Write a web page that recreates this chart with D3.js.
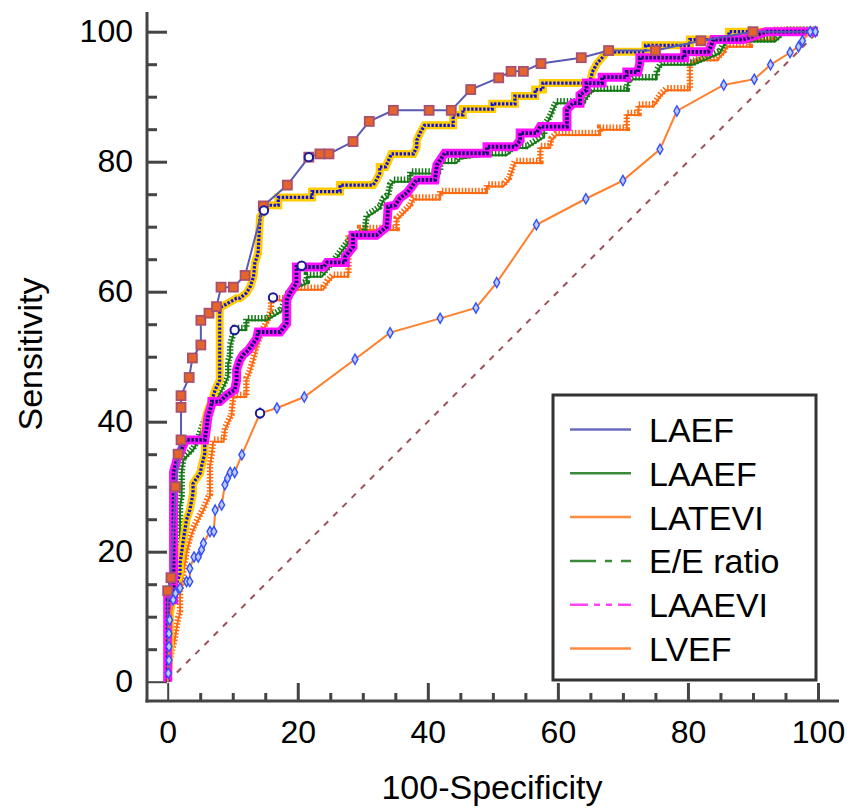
<!DOCTYPE html>
<html>
<head>
<meta charset="utf-8">
<script src="https://cdn.jsdelivr.net/npm/d3@7"></script>
<style>
  body { margin: 0; background: #fff; }
  text { font-family: "Liberation Sans", Arial, sans-serif; fill: #000; }
</style>
</head>
<body>
<script>
// ROC points, [100-specificity, sensitivity]
var laef = [[0,0],[0,14],[0.5,16],[1.2,30],[1.6,35],[2.05,37.2],[2.05,42.2],[2.05,44],[3.3,46.8],[3.8,49.8],
  [5.1,51.8],[5.1,55.6],[6.35,56.7],[7.5,57.7],[8.2,60.7],[10.1,60.7],[11.9,62.5],[14.7,73.2],[18.4,76.4],
  [21.7,80.7],[23.4,81.2],[24.8,81.2],[28.5,83.1],[31,86.2],[34.7,87.9],[40.2,87.9],[43.6,87.9],[46.6,91.1],
  [50.9,92.9],[52.8,93.9],[54.7,93.9],[57.4,95.1],[63.6,96],[67.8,97.1],[75,97.1],[82,98.6],[90,100],[100,100]];

var laaef = [[0,0],[0,8],[0.6,15.6],[1.9,19.8],[1.9,26.9],[2.15,28.4],[2.15,32.1],[2.4,34.1],[3.9,35.6],
  [4.5,36.7],[5.2,38.7],[6.2,41.3],[7.5,43.3],[8.6,45.4],[9.3,46.9],[9.3,49],[9.6,50],[9.6,51.5],[10.3,54.1],
  [12.1,54.1],[12.1,55.6],[15.2,55.6],[17.5,57],[18.5,59.5],[19.5,60.5],[21.4,61.3],[21.4,62.3],[23.7,62.3],
  [25.5,64.5],[27,66.5],[28.5,68.5],[30.3,69],[30.6,71.5],[31.6,72.1],[32.6,72.8],[33.2,74.1],[33.9,74.6],
  [34.2,76.2],[34.7,76.9],[37.3,76.9],[37.3,78.2],[41.9,78.2],[41.9,79.8],[44.4,79.8],[45,80.5],[49.1,81],
  [52.1,81],[53.4,82.1],[55.2,82.1],[57.9,83.8],[57.9,85.4],[58.5,86.2],[59,87.2],[59.3,88],[59.8,89],
  [63.9,89],[64.9,90.5],[65.4,90.9],[70.6,90.9],[70.8,92.1],[71.6,92.7],[75.2,92.7],[75.2,93.8],[75.9,94.9],
  [80.8,94.9],[84.9,96.7],[85.4,97.7],[86,98.5],[93.4,98.5],[95,100],[100,100]];

var latevi = [[0,0],[0.3,3],[1,6],[1.6,9.5],[1.9,10.5],[1.9,13.6],[2.4,16.7],[2.9,19.8],[3.4,21.8],[3.9,23.3],
  [4.7,24.9],[5.5,26.4],[6.2,28],[6.5,28.5],[6.5,33.1],[6.8,35.1],[7,36.9],[8.6,36.9],[8.8,38.7],[9.3,39.8],
  [9.8,40.8],[10.1,43.8],[12.1,43.8],[12.1,46.4],[12.6,47.5],[13.2,49.5],[13.7,51.5],[14.7,54.1],[15.5,55.6],
  [15.9,57.2],[15.9,58.7],[18.3,58.7],[19.3,59.8],[19.8,60.3],[23.9,60.3],[24.5,61.3],[25.4,62.3],[27.8,62.3],
  [27.8,68.5],[29.6,68.5],[29.6,69.5],[35.2,69.5],[35.2,71],[37.3,73.1],[37.8,74.2],[41.9,74.2],[41.9,75.2],
  [49.1,75.2],[49.1,76.2],[51.6,76.2],[52.5,77.2],[53.4,79.8],[57.3,79.8],[57.3,82.1],[58.8,82.1],[59,83.3],
  [59.8,84.1],[66.5,84.1],[66.5,84.9],[70.6,84.9],[70.6,87.2],[72.4,87.2],[72.4,88.5],[74.7,88.5],[75.7,90],
  [76.7,91],[80.3,91],[80.3,94.9],[81.6,95.6],[84.4,95.6],[85.5,96.7],[86,97.7],[89.5,97.7],[89.5,98.7],
  [93.1,98.7],[93.1,100],[100,100]];

var eeRatio = [[0,0],[0.35,5.3],[0.35,10.5],[0.9,13.6],[1.9,16.7],[1.9,18.2],[2.4,21.8],[2.9,24.9],[3.4,26.4],
  [3.9,29],[3.9,30.5],[5,32.1],[5.2,33.1],[5.7,35.1],[5.7,39.2],[6,41.3],[6.8,43.3],[7.3,44.9],[8,46.4],
  [8,57.7],[8.3,57.7],[10.6,59],[11.1,59],[12.1,59.8],[12.7,60.8],[13.2,62.3],[13.4,64.4],[13.9,65.9],
  [14.2,71.5],[14.8,72.5],[15.4,73.3],[17,73.3],[17,74.5],[22.2,74.5],[22.2,75.4],[26.5,75.4],[26.5,76.4],
  [31.6,76.4],[32.1,77.2],[32.6,78.2],[32.6,79.2],[33.5,79.2],[34.4,81.2],[37.8,81.2],[38.3,82.3],[38.3,83.3],
  [38.8,84.4],[39.5,85.6],[43.9,85.6],[43.9,87.2],[45.4,87.2],[45.4,88.1],[49.9,88.1],[49.9,88.9],[53.4,88.9],
  [53.4,90.1],[56.5,90.1],[56.5,91.1],[57.7,91.1],[57.7,92.1],[64.9,92.1],[65.3,93.8],[66,95.1],[66.8,96],
  [67.5,96.9],[73.5,96.9],[73.5,97.9],[80.3,97.9],[80.3,98.8],[86.3,98.8],[86.3,100],[100,100]];

var laaevi = [[0,0],[0,12.6],[0.9,12.6],[0.9,32.3],[1.4,34.1],[1.9,35.1],[2.7,37.2],[5.7,37.2],[6,39.2],
  [6.2,40.8],[6.8,42.8],[6.8,43.1],[8,43.1],[9.1,44.1],[10.3,44.9],[10.6,46.4],[10.6,48],[11.1,49.5],
  [11.6,50.3],[12.4,51],[13.7,52.8],[13.9,53.8],[17.3,53.8],[18.3,55.1],[18.3,58.7],[18.8,59.8],[19.8,61.3],
  [19.8,63.8],[24,63.8],[24.5,64.5],[27.3,64.5],[27.3,65.4],[28.5,66.9],[28.5,68.7],[32.1,68.7],[33.7,70],
  [33.9,73.1],[35,73.3],[35.7,74.4],[36.8,75.2],[38.3,77.2],[41.1,77.2],[41.4,79.5],[42.6,81.3],[49.1,81.3],
  [49.1,82.3],[53.4,82.3],[54.2,83.3],[54.2,84.4],[56.7,84.4],[57.3,85.4],[61.4,85.4],[61.4,88],[62.3,89],
  [63.4,89],[63.4,90.3],[64.4,91],[64.4,92.1],[66.8,92.1],[66.8,93],[70.6,93],[70.6,93.8],[72.3,93.8],
  [72.6,95.1],[72.6,96],[79.5,96],[79.5,96.9],[83.1,96.9],[83.5,97.7],[83.9,98.8],[88.5,98.8],[92,100],[100,100]];

var lvef = [[0,0],[0.1,1.3],[0.2,3.3],[0.2,5.4],[0.2,7.4],[0.3,9.5],[0.85,12.6],[1.2,13.6],[1.9,14.4],
  [2.9,15.4],[3.4,15.4],[3.4,17.4],[4.05,19.2],[4.7,19.2],[5.2,20.3],[5.5,21.3],[6.5,23.1],[7.1,23.1],
  [7.3,26.4],[8.3,27.2],[8.8,30.3],[9.2,31.3],[9.6,32.2],[10.3,32.2],[11.4,34.9],[14.2,41.3],[16.8,42.1],
  [21,43.8],[28.8,49.6],[34.2,53.7],[41.9,55.9],[47.4,57.5],[50.6,61.4],[56.7,70.3],[64.3,74.3],[70,77.1],
  [75.7,81.9],[78.3,87.8],[85.5,91.8],[90.2,92.7],[92.7,94.9],[95.7,96.8],[97,97.7],[97.6,98.6],[98.8,100],
  [99.6,100],[100,100]];

// optimal criterion points (open circles)
var criterion = [[21.7,80.7],[14.8,72.5],[10.3,54.1],[16.2,59.1],[20.6,64],[14.2,41.3]];

var legendLabels = ["LAEF", "LAAEF", "LATEVI", "E/E ratio", "LAAEVI", "LVEF"];
var xTicks = [0, 20, 40, 60, 80, 100];
var yTicks = [0, 20, 40, 60, 80, 100];

var width = 851, height = 808;

var svg = d3.select("body").append("svg")
  .attr("width", width)
  .attr("height", height);

var x = d3.scaleLinear().domain([0, 100]).range([167.7, 818]);
var y = d3.scaleLinear().domain([0, 100]).range([681.7, 31.7]);

var line = d3.line()
  .x(function (d) { return x(d[0]); })
  .y(function (d) { return y(d[1]); });

// axes
var axisCol = "#444";
var minor = d3.range(0, 101, 5).filter(function (v) { return v % 20 != 0; });

var gx = svg.append("g").attr("transform", "translate(0,701)");
gx.call(d3.axisBottom(x).tickValues(xTicks).tickSizeInner(-18).tickSizeOuter(0).tickPadding(19));
gx.append("g").call(d3.axisBottom(x).tickValues(minor).tickSizeInner(-8).tickSizeOuter(0).tickFormat(""));

var gy = svg.append("g").attr("transform", "translate(147,0)");
gy.call(d3.axisLeft(y).tickValues(yTicks).tickSizeInner(-20).tickSizeOuter(0).tickPadding(14));
gy.append("g").call(d3.axisLeft(y).tickValues(minor).tickSizeInner(-10).tickSizeOuter(0).tickFormat(""));

svg.selectAll(".domain").remove();
svg.selectAll(".tick line").attr("stroke", axisCol).attr("stroke-width", 3);
svg.selectAll(".tick text").style("font-size", "32px").attr("fill", "#000");
gx.select("g").selectAll(".tick line").attr("stroke-width", 2);
gy.select("g").selectAll(".tick line").attr("stroke-width", 2);

svg.append("line").attr("x1", 147).attr("x2", 147).attr("y1", 12).attr("y2", 702.5)
  .attr("stroke", axisCol).attr("stroke-width", 3);
svg.append("line").attr("x1", 145.5).attr("x2", 839).attr("y1", 701).attr("y2", 701)
  .attr("stroke", axisCol).attr("stroke-width", 3);

svg.append("text").attr("x", 492).attr("y", 799).attr("text-anchor", "middle")
  .style("font-size", "34px").text("100-Specificity");
svg.append("text").attr("transform", "translate(42,354) rotate(-90)").attr("text-anchor", "middle")
  .style("font-size", "34px").text("Sensitivity");

// reference diagonal
svg.append("path").datum([[0, 0], [100, 100]]).attr("d", line)
  .attr("fill", "none").attr("stroke", "#a0505a").attr("stroke-width", 2).attr("stroke-dasharray", "6,7");

var plot = svg.append("g");

// dense-marker curves: band + marker stroke
function combCurve(data, col, band) {
  plot.append("path").datum(data).attr("d", line).attr("fill", "none")
    .attr("stroke", col).attr("stroke-width", 2);
  plot.append("path").datum(data).attr("d", line).attr("fill", "none")
    .attr("transform", "translate(0,-2)")
    .attr("stroke", col).attr("stroke-width", band).attr("stroke-dasharray", "1.5,1.8");
}

function boxCurve(data, col, dot, band, dotW) {
  plot.append("path").datum(data).attr("d", line).attr("fill", "none")
    .attr("stroke", col).attr("stroke-width", band).attr("stroke-linejoin", "miter");
  plot.append("path").datum(data).attr("d", line).attr("fill", "none")
    .attr("stroke", dot).attr("stroke-width", dotW).attr("stroke-dasharray", "2.4,1.6");
}

combCurve(latevi, "#ff6a10", 6.5);
combCurve(laaef, "#157a15", 6.5);
boxCurve(eeRatio, "#ffcc00", "#1010e0", 8, 3.2);
boxCurve(laaevi, "#ff10ff", "#10106e", 9, 3.8);

// LAEF
plot.append("path").datum(laef).attr("d", line).attr("fill", "none")
  .attr("stroke", "#5a5ab4").attr("stroke-width", 2);
plot.selectAll(".sq").data(laef.slice(1, -1)).enter().append("rect")
  .attr("x", function (d) { return x(d[0]) - 4.5; })
  .attr("y", function (d) { return y(d[1]) - 4.5; })
  .attr("width", 9).attr("height", 9)
  .attr("fill", "#e4642c").attr("stroke", "#a8506e").attr("stroke-width", 1.8);

// LVEF
plot.append("path").datum(lvef).attr("d", line).attr("fill", "none")
  .attr("stroke", "#ff7f2a").attr("stroke-width", 2);
plot.selectAll(".dm").data(lvef.slice(1, -1)).enter().append("path")
  .attr("d", d3.symbol().type(d3.symbolDiamond).size(30))
  .attr("transform", function (d) { return "translate(" + x(d[0]) + "," + y(d[1]) + ")"; })
  .attr("fill", "#c0caff").attr("stroke", "#3050ff").attr("stroke-width", 1.4);

plot.selectAll(".crit").data(criterion).enter().append("circle")
  .attr("cx", function (d) { return x(d[0]); })
  .attr("cy", function (d) { return y(d[1]); })
  .attr("r", 4.2).attr("fill", "#fff").attr("stroke", "#1a1a9a").attr("stroke-width", 2);

// legend
var lgCols = ["#6b6bbf", "#3a8a3a", "#ff8a40", "#3a8a3a", "#ff40ff", "#ff8a40"];
var lgDash = [null, null, null, "26,9,7,9,14", "18,6,6,6,6,6,14", null];
var legend = svg.append("g");
legend.append("rect").attr("x", 553).attr("y", 395).attr("width", 263).attr("height", 285)
  .attr("fill", "#fff").attr("stroke", "#333").attr("stroke-width", 3);
var rows = legend.selectAll(".row").data(legendLabels).enter().append("g")
  .attr("transform", function (d, i) { return "translate(0," + (429.5 + i * 43.8) + ")"; });
rows.append("line").attr("x1", 570).attr("x2", 631).attr("y1", 0).attr("y2", 0)
  .attr("stroke", function (d, i) { return lgCols[i]; }).attr("stroke-width", 2.5)
  .attr("stroke-dasharray", function (d, i) { return lgDash[i]; });
rows.append("text").attr("x", 649).attr("y", 12.5).style("font-size", "34px")
  .text(function (d) { return d; });
</script>
</body>
</html>
